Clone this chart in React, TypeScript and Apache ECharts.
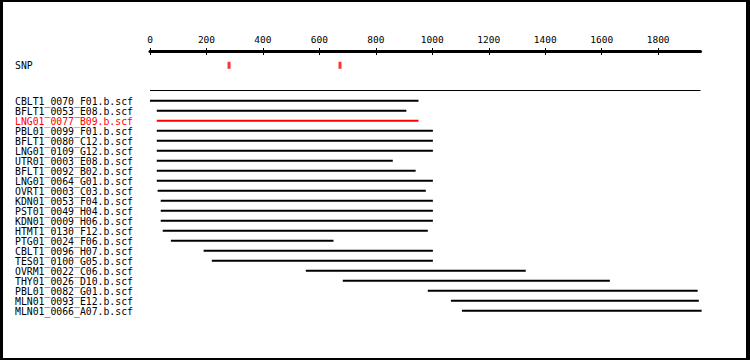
import React, { useEffect, useRef } from "react";
import * as echarts from "echarts";

const readNames = [
  "CBLT1_0070_F01.b.scf",
  "BFLT1_0053_E08.b.scf",
  "LNG01_0077_B09.b.scf",
  "PBL01_0099_F01.b.scf",
  "BFLT1_0080_C12.b.scf",
  "LNG01_0109_G12.b.scf",
  "UTR01_0003_E08.b.scf",
  "BFLT1_0092_B02.b.scf",
  "LNG01_0064_G01.b.scf",
  "OVRT1_0003_C03.b.scf",
  "KDN01_0053_F04.b.scf",
  "PST01_0049_H04.b.scf",
  "KDN01_0009_H06.b.scf",
  "HTMT1_0130_F12.b.scf",
  "PTG01_0024_F06.b.scf",
  "CBLT1_0096_H07.b.scf",
  "TES01_0100_G05.b.scf",
  "OVRM1_0022_C06.b.scf",
  "THY01_0026_D10.b.scf",
  "PBL01_0082_G01.b.scf",
  "MLN01_0093_E12.b.scf",
  "MLN01_0066_A07.b.scf",
];
const readStarts = [0, 24, 24, 24, 24, 24, 24, 24, 24, 27, 38, 38, 38, 45, 74, 190, 219, 552, 683, 984, 1066, 1105];
const readEnds = [951, 908, 951, 1002, 1002, 1002, 860, 941, 1002, 977, 1002, 1002, 1002, 984, 650, 1002, 1002, 1331, 1629, 1940, 1944, 1954];
const highlightedRead = "LNG01_0077_B09.b.scf";
const snpPositions = [280, 673];
const consensusStart = 0;
const consensusEnd = 1950;
const axisMax = 1950;
const tickLabels = [0, 200, 400, 600, 800, 1000, 1200, 1400, 1600, 1800];

const FONT = "'DejaVu Sans Mono', 'Liberation Mono', monospace";

export default function App() {
  const ref = useRef<HTMLDivElement>(null);
  useEffect(() => {
    if (!ref.current) return;
    const chart = echarts.init(ref.current, undefined, { renderer: "svg" });
    const rows = readNames.map((n, i) => [readStarts[i], readEnds[i], i, n]);
    const SNP_ROW = -3.57;
    const CONS_ROW = -1.1;
    chart.setOption({
      animation: false,
      backgroundColor: "#ffffff",
      grid: { left: 150, width: 550.5, top: 51, height: 300 },
      xAxis: [
        {
          type: "value",
          position: "top",
          min: 0,
          max: axisMax,
          interval: 200,
          axisLine: { show: true, onZero: false, lineStyle: { color: "#000", width: 3 } },
          axisTick: { show: true, inside: false, length: 3, customValues: tickLabels, lineStyle: { color: "#000", width: 1 } },
          axisLabel: {
            show: true,
            margin: 7,
            color: "#000",
            fontFamily: FONT,
            fontSize: 9.5,
            customValues: tickLabels,
            formatter: (v: number) => String(v),
          },
          splitLine: { show: false },
        },
        {
          type: "value",
          position: "top",
          min: 0,
          max: axisMax,
          interval: 200,
          axisLine: { show: false, onZero: false },
          axisTick: { show: true, inside: true, length: 4, customValues: tickLabels, lineStyle: { color: "#000", width: 1 } },
          axisLabel: { show: false },
          splitLine: { show: false },
        },
      ],
      yAxis: {
        type: "value",
        inverse: true,
        min: -5,
        max: 25,
        show: false,
      },
      graphic: [
        { type: "rect", shape: { x: 0, y: 0, width: 3, height: 360 }, style: { fill: "#000" } },
        { type: "rect", shape: { x: 0, y: 0, width: 750, height: 2 }, style: { fill: "#000" } },
        { type: "rect", shape: { x: 746, y: 0, width: 4, height: 360 }, style: { fill: "#000" } },
        { type: "rect", shape: { x: 0, y: 358, width: 750, height: 2 }, style: { fill: "#000" } },
      ],
      series: [
        {
          type: "custom",
          xAxisIndex: 0,
          clip: false,
          data: [[consensusStart, consensusEnd, CONS_ROW]],
          renderItem: (_p: any, api: any) => {
            const s = api.coord([api.value(0), api.value(2)]);
            const e = api.coord([api.value(1), api.value(2)]);
            return {
              type: "line",
              shape: { x1: s[0], y1: Math.round(s[1]) + 0.5, x2: e[0], y2: Math.round(s[1]) + 0.5 },
              style: { stroke: "#000", lineWidth: 1 },
            };
          },
        },
        {
          type: "custom",
          xAxisIndex: 0,
          clip: false,
          data: [[0, 0, SNP_ROW, "SNP"]],
          renderItem: (_p: any, api: any) => {
            const s = api.coord([api.value(0), api.value(2)]);
            return {
              type: "text",
              x: 15,
              y: s[1],
              style: { text: "SNP", fill: "#000", fontFamily: FONT, fontSize: 9.8, verticalAlign: "middle", align: "left" },
            };
          },
        },
        {
          type: "scatter",
          xAxisIndex: 0,
          symbol: "rect",
          symbolSize: [3, 7],
          itemStyle: { color: "#ff0000" },
          data: snpPositions.map((p) => [p, SNP_ROW]),
        },
        {
          type: "custom",
          xAxisIndex: 0,
          clip: false,
          data: rows,
          renderItem: (p: any, api: any) => {
            const s = api.coord([api.value(0), api.value(2)]);
            const e = api.coord([api.value(1), api.value(2)]);
            const name = readNames[p.dataIndex];
            const color = name === highlightedRead ? "#ff0000" : "#000000";
            return {
              type: "group",
              children: [
                {
                  type: "line",
                  shape: { x1: s[0], y1: s[1] - 0.3, x2: e[0], y2: e[1] - 0.3 },
                  style: { stroke: color, lineWidth: 2 },
                },
                {
                  type: "text",
                  x: 15,
                  y: s[1],
                  style: { text: name, fill: color, fontFamily: FONT, fontSize: 9.8, verticalAlign: "middle", align: "left" },
                },
              ],
            };
          },
        },
      ],
    });
    return () => chart.dispose();
  }, []);
  return (
    <div
      ref={ref}
      style={{ position: "fixed", left: 0, top: 0, width: 750, height: 360, background: "#fff" }}
    />
  );
}
